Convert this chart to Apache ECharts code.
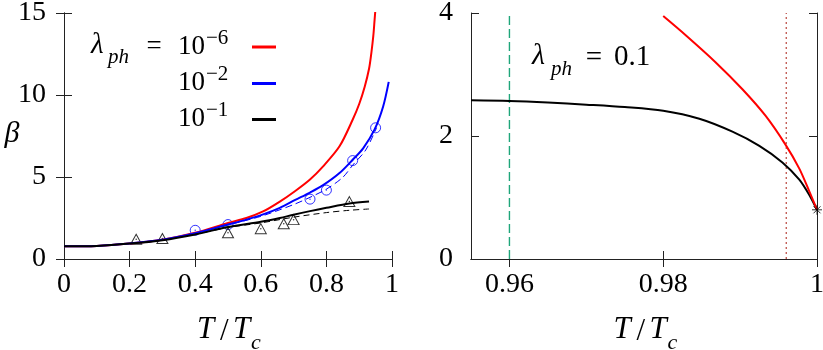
<!DOCTYPE html>
<html><head><meta charset="utf-8">
<script src="https://cdn.jsdelivr.net/npm/echarts@6/dist/echarts.min.js"></script>
<style>html,body{margin:0;padding:0;background:#fff}#c{width:823px;height:350px}</style>
</head><body><div id="c"></div>
<script>
// ---- data ----
const xTicksRight = [0.96, 0.98, 1];
const red6 = [[0,0.77],[0.1,0.8],[0.2,0.95],[0.3,1.18],[0.4,1.6],[0.5,2.2],[0.556,2.5],[0.607,2.9],[0.658,3.5],[0.705,4.15],[0.75,4.85],[0.79,5.65],[0.84,6.87],[0.88,8.49],[0.9,9.45],[0.917,10.52],[0.93,11.6],[0.937,12.56],[0.943,13.6],[0.947,14.6],[0.951,15.6]];
const blue2 = [[0,0.77],[0.1,0.8],[0.2,0.95],[0.3,1.17],[0.4,1.57],[0.5,2.1],[0.556,2.4],[0.607,2.72],[0.658,3.12],[0.705,3.6],[0.75,4.05],[0.79,4.5],[0.84,5.24],[0.88,6.05],[0.912,6.75],[0.947,7.9],[0.973,9.3],[0.99,10.8]];
const blue2dash = [[0.45,1.82],[0.5,2.08],[0.6,2.6],[0.7,3.32],[0.75,3.76],[0.8,4.26],[0.85,4.98],[0.88,5.72],[0.92,6.65],[0.953,8.0]];
const black1 = [[0,0.77],[0.1,0.8],[0.2,0.94],[0.3,1.15],[0.4,1.5],[0.5,1.95],[0.6,2.27],[0.658,2.5],[0.7,2.7],[0.75,2.92],[0.8,3.12],[0.87,3.38],[0.93,3.5]];
const black1dash = [[0.4,1.5],[0.5,1.92],[0.6,2.2],[0.7,2.55],[0.8,2.83],[0.87,2.97],[0.93,3.05]];
const circles2 = [[0.4,1.75],[0.5,2.1],[0.75,3.65],[0.8,4.2],[0.88,6.0],[0.95,8.0]];
const triangles1 = [[0.22,1.2],[0.3,1.25],[0.5,1.6],[0.6,1.85],[0.67,2.15],[0.7,2.4],[0.87,3.5]];
const rightBlack = [[0.955,2.58],[0.96,2.57],[0.965,2.545],[0.97,2.51],[0.975,2.47],[0.98,2.41],[0.9847,2.28],[0.989,2.07],[0.9925,1.84],[0.9955,1.57],[0.9977,1.29],[0.999,1.04],[1,0.8]];
const rightRed = [[0.98,3.95],[0.983,3.63],[0.9868,3.2],[0.9903,2.76],[0.9933,2.33],[0.9959,1.86],[0.9977,1.47],[0.999,1.1],[1,0.8]];
const starPt = [[1,0.8]];
const greenLineX = 0.96;
const redDotX = 0.996;

// ---- styling ----
const FF = 'Liberation Serif';
const RED = '#ff0000', BLUE = '#0000ff', BLACK = '#000000';
const frame = {show:true, lineStyle:{color:'#222', width:1}};
const tickIn = (extra) => Object.assign({show:true, inside:true, length:8, lineStyle:{color:'#222', width:1}}, extra||{});
const lab = (extra) => Object.assign({fontSize:28, fontFamily:FF, color:'#000'}, extra||{});

function T(x, y, s, size, o) {
  o = o || {};
  return {type:'text', x:x, y:y, z:100, style:{text:s, fontSize:size, fontFamily:o.ff||FF,
    fontStyle:o.it?'italic':'normal', fill:'#000', align:o.align||'left', verticalAlign:'middle',
    textAlign:o.align||'left', textVerticalAlign:'middle'}};
}
function L(x1, x2, y, c) {
  return {type:'line', z:100, shape:{x1:x1, y1:y, x2:x2, y2:y}, style:{stroke:c, lineWidth:3}};
}
function axisTitle(dx) {
  return [T(197+dx,330,'T',31,{it:true}), T(220+dx,332,'/',31), T(233+dx,330,'T',31,{it:true}), T(251+dx,343,'c',22,{it:true})];
}

const starPath = 'path://M0,5L10,5M5,0L5,10M1.5,1.5L8.5,8.5M1.5,8.5L8.5,1.5';
const curve = (xi, yi, data, color, width, type) => ({type:'line', xAxisIndex:xi, yAxisIndex:yi, data:data, showSymbol:false, symbol:'none',
  smooth:0.3, lineStyle:{color:color, width:width, type:type||'solid'}});

const option = {
  animation:false,
  backgroundColor:'#fff',
  grid:[
    {left:64, top:13, width:328, height:246, outerBoundsMode:'none', containLabel:false},
    {left:471, top:13, width:346, height:246, outerBoundsMode:'none', containLabel:false}
  ],
  xAxis:[
    {gridIndex:0, type:'value', min:0, max:1, interval:0.2, position:'bottom', axisLine:frame, axisTick:tickIn(), splitLine:{show:false}, axisLabel:lab({margin:12})},
    {gridIndex:0, type:'value', min:0, max:1, interval:0.2, position:'top', axisLine:frame, axisTick:tickIn(), splitLine:{show:false}, axisLabel:{show:false}},
    {gridIndex:1, type:'value', min:0.955, max:1, position:'bottom', axisLine:frame, axisTick:tickIn({customValues:xTicksRight}), splitLine:{show:false},
      axisLabel:lab({margin:12, customValues:xTicksRight, formatter:v=>String(+v.toFixed(3))})},
    {gridIndex:1, type:'value', min:0.955, max:1, position:'top', axisLine:frame, axisTick:tickIn({customValues:xTicksRight}), splitLine:{show:false},
      axisLabel:{show:false, customValues:xTicksRight}}
  ],
  yAxis:[
    {gridIndex:0, type:'value', min:0, max:15, interval:5, position:'left', axisLine:frame, axisTick:tickIn(), splitLine:{show:false}, axisLabel:lab({margin:18})},
    {gridIndex:0, type:'value', min:0, max:15, interval:5, position:'right', axisLine:frame, axisTick:tickIn(), splitLine:{show:false}, axisLabel:{show:false}},
    {gridIndex:1, type:'value', min:0, max:4, interval:2, position:'left', axisLine:frame, axisTick:tickIn(), splitLine:{show:false}, axisLabel:lab({margin:18})},
    {gridIndex:1, type:'value', min:0, max:4, interval:2, position:'right', axisLine:frame, axisTick:tickIn(), splitLine:{show:false}, axisLabel:{show:false}}
  ],
  series:[
    curve(0,0,red6,RED,2),
    curve(0,0,blue2,BLUE,2),
    curve(0,0,blue2dash,BLUE,1,[7,4]),
    {type:'scatter', xAxisIndex:0, yAxisIndex:0, data:circles2, symbol:'circle', symbolSize:10, itemStyle:{color:'none', borderColor:BLUE, borderWidth:1}},
    {type:'scatter', xAxisIndex:0, yAxisIndex:0, data:circles2, symbol:'circle', symbolSize:1.5, itemStyle:{color:BLUE}},
    curve(0,0,black1,BLACK,2),
    curve(0,0,black1dash,BLACK,1,[6,4]),
    {type:'scatter', xAxisIndex:0, yAxisIndex:0, data:triangles1, symbol:'triangle', symbolSize:[11,10], itemStyle:{color:'none', borderColor:BLACK, borderWidth:1}},
    {type:'scatter', xAxisIndex:0, yAxisIndex:0, data:triangles1, symbol:'circle', symbolSize:1.5, itemStyle:{color:BLACK}},
    // right panel
    {type:'line', xAxisIndex:2, yAxisIndex:2, data:[[greenLineX,0],[greenLineX,4]], showSymbol:false, symbol:'none', lineStyle:{color:'#1fa67a', width:1.4, type:[9,4]}},
    {type:'line', xAxisIndex:2, yAxisIndex:2, data:[[redDotX,0],[redDotX,4]], showSymbol:false, symbol:'none', lineStyle:{color:'#b8443c', width:1.2, type:[2,3]}},
    curve(2,2,rightBlack,BLACK,2),
    curve(2,2,rightRed,RED,2),
    {type:'scatter', xAxisIndex:2, yAxisIndex:2, data:starPt, symbol:starPath, symbolSize:10, clip:false, z:10, itemStyle:{color:'none', borderColor:BLACK, borderWidth:1}}
  ],
  graphic:[
    // legend
    T(91,45,'λ',29,{it:true}), T(108,57,'ph',21,{it:true}), T(154,47,'=',27,{align:'center'}),
    T(205,47,'10',27,{align:'right'}), T(206,38,'−6',21),
    T(205,83,'10',27,{align:'right'}), T(206,74,'−2',21),
    T(205,119,'10',27,{align:'right'}), T(206,110,'−1',21),
    L(252,276,47,RED), L(252,276,83.5,BLUE), L(252,276,119.5,BLACK),
    // right label
    T(532,56,'λ',30,{it:true}), T(551,69,'ph',21,{it:true}), T(594,58,'=',29,{align:'center'}), T(614,57,'0.1',29),
    // y axis title
    T(12,134,'β',30,{it:true, align:'center'})
  ].concat(axisTitle(0)).concat(axisTitle(416.6))
};
const chart = echarts.init(document.getElementById('c'), null, {renderer:'canvas'});
chart.setOption(option);
</script>
</body></html>
